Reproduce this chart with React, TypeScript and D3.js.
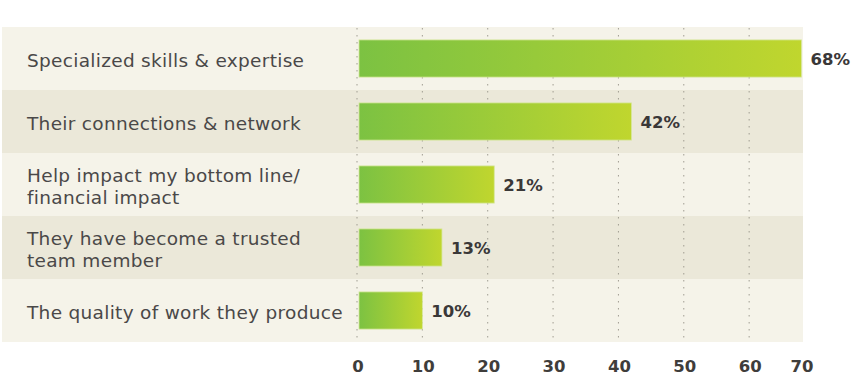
import * as d3 from 'd3';

const categories: string[][] = [
  ['Specialized skills & expertise'],
  ['Their connections & network'],
  ['Help impact my bottom line/', 'financial impact'],
  ['They have become a trusted', 'team member'],
  ['The quality of work they produce'],
];
const values = [68, 42, 21, 13, 10];
const ticks = [0, 10, 20, 30, 40, 50, 60, 70];

const W = 864;
const H = 387;
const panel = { left: 2, right: 803, top: 27, bottom: 342 };

export default function App() {
  const x = d3.scaleLinear().domain([0, 70]).range([357, 814.5]);
  const rows = d3
    .scaleBand<number>()
    .domain(d3.range(values.length))
    .range([panel.top, panel.bottom]);
  const bars = d3
    .scaleBand<number>()
    .domain(d3.range(values.length))
    .range([panel.top, panel.bottom])
    .paddingInner(0.41)
    .paddingOuter(0.205);

  const labelFont = 'DejaVu Sans, sans-serif';
  const lineGap = 22;

  return (
    <svg
      width={W}
      height={H}
      style={{ position: 'fixed', left: 0, top: 0, background: '#fff' }}
    >
      <defs>
        <linearGradient id="barFill" x1="0" x2="1" y1="0" y2="0">
          <stop offset="0%" stopColor="#7cc242" />
          <stop offset="100%" stopColor="#c0d62e" />
        </linearGradient>
      </defs>

      {/* row bands */}
      {values.map((_, i) => (
        <rect
          key={'row' + i}
          x={panel.left}
          y={rows(i)}
          width={panel.right - panel.left}
          height={rows.bandwidth()}
          fill={i % 2 === 0 ? '#f5f3e9' : '#ebe8d9'}
        />
      ))}

      {/* dotted gridlines */}
      {ticks
        .filter(t => x(t) < panel.right)
        .map(t => (
          <line
            key={'g' + t}
            x1={x(t)}
            x2={x(t)}
            y1={panel.top + 1}
            y2={panel.bottom}
            stroke="#a09d92"
            strokeWidth={1}
            strokeDasharray="1.5,5.5"
          />
        ))}

      {/* bars */}
      {values.map((v, i) => (
        <rect
          key={'b' + i}
          x={x(0) + 2}
          y={bars(i)}
          width={x(v) - x(0) - 2}
          height={bars.bandwidth()}
          fill="url(#barFill)"
          stroke="#d6e79c"
          strokeWidth={0.8}
        />
      ))}

      {/* value labels */}
      {values.map((v, i) => (
        <text
          key={'v' + i}
          x={x(v) + 9}
          y={(bars(i) as number) + bars.bandwidth() / 2 + 6.5}
          fontFamily={labelFont}
          fontWeight="bold"
          fontSize={16.5}
          fill="#3a3838"
        >
          {v}%
        </text>
      ))}

      {/* category labels */}
      {categories.map((lines, i) => {
        const cy = (rows(i) as number) + rows.bandwidth() / 2;
        const first = cy + 8 - ((lines.length - 1) * lineGap) / 2;
        return (
          <text
            key={'c' + i}
            fontFamily={labelFont}
            fontSize={18.5}
            letterSpacing={0.3}
            fill="#4a4848"
          >
            {lines.map((l, j) => (
              <tspan key={j} x={27} y={first + j * lineGap}>
                {l}
              </tspan>
            ))}
          </text>
        );
      })}

      {/* axis tick labels */}
      {ticks.map((t, i) => {
        const last = i === ticks.length - 1;
        return (
          <text
            key={'t' + t}
            x={last ? x(t) - 1 : x(t) + 1}
            y={372}
            textAnchor={last ? 'end' : 'middle'}
            fontFamily={labelFont}
            fontWeight="bold"
            fontSize={16.5}
            fill="#3f3d3b"
          >
            {t}
          </text>
        );
      })}
    </svg>
  );
}
